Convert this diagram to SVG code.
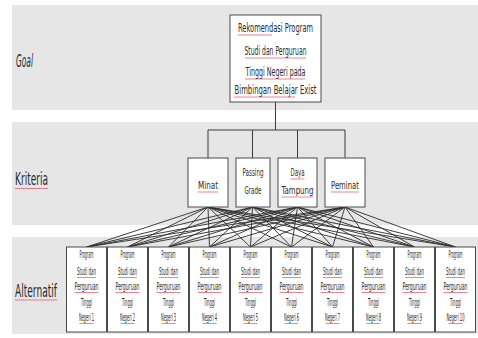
<svg xmlns="http://www.w3.org/2000/svg" width="478" height="338" viewBox="0 0 478 338">
<style>
.band{fill:#e7e6e7}
.box{fill:#ffffff;stroke:#4a4a4a;stroke-width:1}
.t{font-family:"Liberation Sans Narrow","DejaVu Sans Condensed","Liberation Sans",sans-serif;fill:#2a2a2a;text-anchor:middle}
.g{font-size:11.5px}
.c{font-size:11px}
.a{font-size:10px}
.lbl{font-family:"Liberation Sans Narrow","DejaVu Sans Condensed","Liberation Sans",sans-serif;fill:#2a2a2a;font-size:17px}
.sp{stroke:#e0304a;stroke-width:0.8;opacity:0.75}
.con line{stroke:#2a2a2a;stroke-width:0.9}
.tree{stroke:#3a3a3a;stroke-width:1;fill:none}
</style>
<rect width="478" height="338" fill="#ffffff"/>
<rect class="band" x="12" y="5" width="466" height="105"/>
<rect class="band" x="12" y="122" width="466" height="103"/>
<rect class="band" x="12" y="237" width="466" height="97"/>

<g id="label-goal"><text class="lbl" x="16" y="67" font-style="italic" textLength="17" lengthAdjust="spacingAndGlyphs">Goal</text></g>
<g id="label-kriteria"><text class="lbl" x="15" y="185" textLength="33" lengthAdjust="spacingAndGlyphs">Kriteria</text><line class="sp" x1="15" y1="188.5" x2="48" y2="188.5"/></g>
<g id="label-alternatif"><text class="lbl" x="15" y="297" textLength="42" lengthAdjust="spacingAndGlyphs">Alternatif</text><line class="sp" x1="15" y1="300" x2="57" y2="300"/></g>

<g id="connectors">
<path class="tree" d="M275.5,102 V130 M208,130 H345 M208,130 V158 M252.5,130 V158 M297.5,130 V158 M345,130 V158"/>
<g class="con">
<line x1="208" y1="207" x2="86.5" y2="247"/><line x1="208" y1="207" x2="127.5" y2="247"/><line x1="208" y1="207" x2="168.5" y2="247"/><line x1="208" y1="207" x2="209.5" y2="247"/><line x1="208" y1="207" x2="250.5" y2="247"/><line x1="208" y1="207" x2="291.5" y2="247"/><line x1="208" y1="207" x2="332.5" y2="247"/><line x1="208" y1="207" x2="373.5" y2="247"/><line x1="208" y1="207" x2="414.5" y2="247"/><line x1="208" y1="207" x2="455.5" y2="247"/>
<line x1="252.5" y1="207" x2="86.5" y2="247"/><line x1="252.5" y1="207" x2="127.5" y2="247"/><line x1="252.5" y1="207" x2="168.5" y2="247"/><line x1="252.5" y1="207" x2="209.5" y2="247"/><line x1="252.5" y1="207" x2="250.5" y2="247"/><line x1="252.5" y1="207" x2="291.5" y2="247"/><line x1="252.5" y1="207" x2="332.5" y2="247"/><line x1="252.5" y1="207" x2="373.5" y2="247"/><line x1="252.5" y1="207" x2="414.5" y2="247"/><line x1="252.5" y1="207" x2="455.5" y2="247"/>
<line x1="297.5" y1="207" x2="86.5" y2="247"/><line x1="297.5" y1="207" x2="127.5" y2="247"/><line x1="297.5" y1="207" x2="168.5" y2="247"/><line x1="297.5" y1="207" x2="209.5" y2="247"/><line x1="297.5" y1="207" x2="250.5" y2="247"/><line x1="297.5" y1="207" x2="291.5" y2="247"/><line x1="297.5" y1="207" x2="332.5" y2="247"/><line x1="297.5" y1="207" x2="373.5" y2="247"/><line x1="297.5" y1="207" x2="414.5" y2="247"/><line x1="297.5" y1="207" x2="455.5" y2="247"/>
<line x1="345" y1="207" x2="86.5" y2="247"/><line x1="345" y1="207" x2="127.5" y2="247"/><line x1="345" y1="207" x2="168.5" y2="247"/><line x1="345" y1="207" x2="209.5" y2="247"/><line x1="345" y1="207" x2="250.5" y2="247"/><line x1="345" y1="207" x2="291.5" y2="247"/><line x1="345" y1="207" x2="332.5" y2="247"/><line x1="345" y1="207" x2="373.5" y2="247"/><line x1="345" y1="207" x2="414.5" y2="247"/><line x1="345" y1="207" x2="455.5" y2="247"/>
</g>
</g>

<g id="goal">
<rect class="box" x="230" y="15" width="91" height="87"/>
<text class="t g" x="275.5" y="32" textLength="75" lengthAdjust="spacingAndGlyphs">Rekomendasi Program</text>
<text class="t g" x="275.5" y="55" textLength="62" lengthAdjust="spacingAndGlyphs">Studi dan Perguruan</text>
<text class="t g" x="275.5" y="76" textLength="60" lengthAdjust="spacingAndGlyphs">Tinggi Negeri pada</text>
<text class="t g" x="275.5" y="94" textLength="82" lengthAdjust="spacingAndGlyphs">Bimbingan Belajar Exist</text>
<path class="sp" d="M238,35 H272 M245,58 H306 M245,79 H305 M234,97 H295"/>
</g>

<g id="k-minat"><rect class="box" x="188" y="158" width="40" height="49"/><text class="t c" x="208" y="189" textLength="20" lengthAdjust="spacingAndGlyphs">Minat</text><line class="sp" x1="198" y1="192" x2="218" y2="192"/></g>
<g id="k-passing"><rect class="box" x="236" y="158" width="34" height="49"/><text class="t c" x="253" y="176" textLength="21" lengthAdjust="spacingAndGlyphs">Passing</text><text class="t c" x="253" y="194" textLength="17" lengthAdjust="spacingAndGlyphs">Grade</text></g>
<g id="k-daya"><rect class="box" x="278" y="158" width="39" height="49"/><text class="t c" x="297.5" y="176" textLength="14" lengthAdjust="spacingAndGlyphs">Daya</text><text class="t c" x="297.5" y="194" textLength="32" lengthAdjust="spacingAndGlyphs">Tampung</text><path class="sp" d="M290.5,179 H304.5 M281.5,197 H313.5"/></g>
<g id="k-peminat"><rect class="box" x="325" y="158" width="40" height="49"/><text class="t c" x="345" y="189" textLength="28" lengthAdjust="spacingAndGlyphs">Peminat</text><line class="sp" x1="331" y1="192" x2="359" y2="192"/></g>

<defs>
<g id="altText">
<text class="t a" x="20" y="258" textLength="14" lengthAdjust="spacingAndGlyphs">Program</text>
<text class="t a" x="20" y="275" textLength="19" lengthAdjust="spacingAndGlyphs">Studi dan</text>
<text class="t a" x="20" y="290" textLength="24" lengthAdjust="spacingAndGlyphs">Perguruan</text>
<text class="t a" x="20" y="306" textLength="11" lengthAdjust="spacingAndGlyphs">Tinggi</text>
<path class="sp" d="M10.5,277.5 H29.5 M8,292.5 H32 M13,323.5 H27"/>
</g>
</defs>

<g id="a1" transform="translate(66.5,0)"><rect class="box" x="0" y="247" width="40" height="85"/><use href="#altText"/><text class="t a" x="20" y="321" textLength="15" lengthAdjust="spacingAndGlyphs">Negeri 1</text></g>
<g id="a2" transform="translate(107.5,0)"><rect class="box" x="0" y="247" width="40" height="85"/><use href="#altText"/><text class="t a" x="20" y="321" textLength="15" lengthAdjust="spacingAndGlyphs">Negeri 2</text></g>
<g id="a3" transform="translate(148.5,0)"><rect class="box" x="0" y="247" width="40" height="85"/><use href="#altText"/><text class="t a" x="20" y="321" textLength="15" lengthAdjust="spacingAndGlyphs">Negeri 3</text></g>
<g id="a4" transform="translate(189.5,0)"><rect class="box" x="0" y="247" width="40" height="85"/><use href="#altText"/><text class="t a" x="20" y="321" textLength="15" lengthAdjust="spacingAndGlyphs">Negeri 4</text></g>
<g id="a5" transform="translate(230.5,0)"><rect class="box" x="0" y="247" width="40" height="85"/><use href="#altText"/><text class="t a" x="20" y="321" textLength="15" lengthAdjust="spacingAndGlyphs">Negeri 5</text></g>
<g id="a6" transform="translate(271.5,0)"><rect class="box" x="0" y="247" width="40" height="85"/><use href="#altText"/><text class="t a" x="20" y="321" textLength="15" lengthAdjust="spacingAndGlyphs">Negeri 6</text></g>
<g id="a7" transform="translate(312.5,0)"><rect class="box" x="0" y="247" width="40" height="85"/><use href="#altText"/><text class="t a" x="20" y="321" textLength="15" lengthAdjust="spacingAndGlyphs">Negeri 7</text></g>
<g id="a8" transform="translate(353.5,0)"><rect class="box" x="0" y="247" width="40" height="85"/><use href="#altText"/><text class="t a" x="20" y="321" textLength="15" lengthAdjust="spacingAndGlyphs">Negeri 8</text></g>
<g id="a9" transform="translate(394.5,0)"><rect class="box" x="0" y="247" width="40" height="85"/><use href="#altText"/><text class="t a" x="20" y="321" textLength="15" lengthAdjust="spacingAndGlyphs">Negeri 9</text></g>
<g id="a10" transform="translate(435.5,0)"><rect class="box" x="0" y="247" width="40" height="85"/><use href="#altText"/><text class="t a" x="20" y="321" font-size="8.5" textLength="18" lengthAdjust="spacingAndGlyphs">Negeri 10</text></g>
</svg>
